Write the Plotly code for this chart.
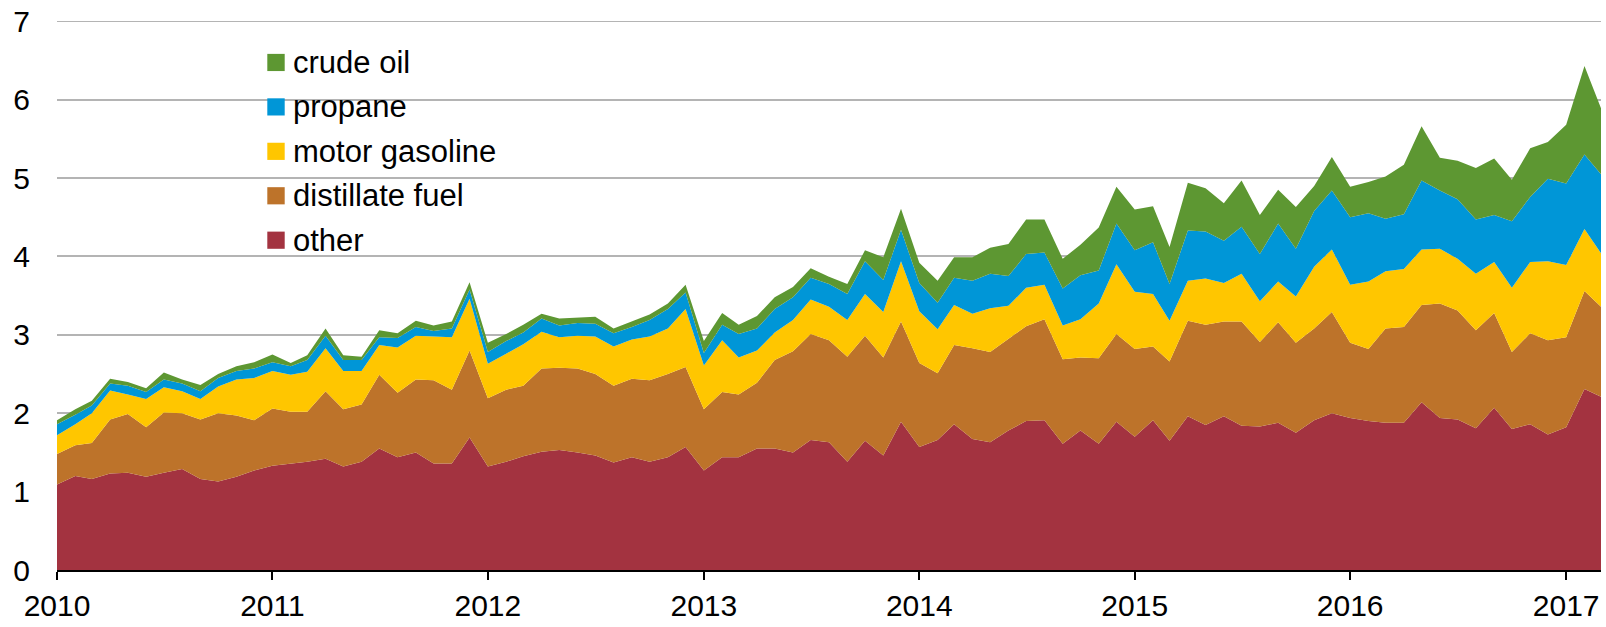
import plotly.graph_objects as go
import pandas as pd

months = pd.date_range("2010-01-01", "2017-03-01", freq="MS")

other = [1.09, 1.20, 1.16, 1.23, 1.24, 1.19, 1.24, 1.29, 1.16, 1.13, 1.19, 1.27,
         1.33, 1.36, 1.38, 1.42, 1.32, 1.38, 1.55, 1.44, 1.50, 1.36, 1.36, 1.69,
         1.32, 1.38, 1.45, 1.51, 1.53, 1.50, 1.46, 1.37, 1.44, 1.38, 1.44, 1.57,
         1.27, 1.44, 1.44, 1.55, 1.55, 1.50, 1.66, 1.63, 1.38, 1.65, 1.46, 1.89,
         1.57, 1.66, 1.86, 1.67, 1.63, 1.78, 1.90, 1.91, 1.61, 1.78, 1.61, 1.89,
         1.70, 1.91, 1.65, 1.96, 1.85, 1.96, 1.84, 1.83, 1.88, 1.75, 1.91, 2.00,
         1.94, 1.90, 1.88, 1.88, 2.14, 1.94, 1.92, 1.81, 2.07, 1.80, 1.86, 1.73,
         1.82, 2.31, 2.21]

distillate = [0.39, 0.39, 0.46, 0.69, 0.75, 0.63, 0.77, 0.71, 0.76, 0.87, 0.78, 0.64,
              0.73, 0.66, 0.64, 0.86, 0.73, 0.73, 0.94, 0.82, 0.93, 1.06, 0.94, 1.11,
              0.87, 0.92, 0.90, 1.06, 1.05, 1.07, 1.04, 0.98, 1.00, 1.04, 1.06, 1.02,
              0.78, 0.83, 0.80, 0.84, 1.13, 1.29, 1.35, 1.30, 1.34, 1.34, 1.25, 1.28,
              1.07, 0.85, 1.01, 1.16, 1.15, 1.17, 1.21, 1.29, 1.08, 0.93, 1.09, 1.12,
              1.12, 0.94, 1.01, 1.22, 1.28, 1.21, 1.33, 1.08, 1.28, 1.15, 1.17, 1.29,
              0.96, 0.92, 1.20, 1.22, 1.24, 1.46, 1.39, 1.25, 1.21, 0.98, 1.16, 1.20,
              1.15, 1.25, 1.15]

gasoline = [0.24, 0.27, 0.38, 0.37, 0.25, 0.36, 0.32, 0.28, 0.26, 0.34, 0.46, 0.54,
            0.48, 0.47, 0.51, 0.55, 0.49, 0.43, 0.38, 0.58, 0.56, 0.56, 0.67, 0.66,
            0.44, 0.46, 0.53, 0.47, 0.39, 0.42, 0.48, 0.50, 0.50, 0.56, 0.58, 0.74,
            0.56, 0.66, 0.47, 0.41, 0.35, 0.40, 0.44, 0.43, 0.47, 0.53, 0.58, 0.77,
            0.66, 0.56, 0.51, 0.44, 0.56, 0.42, 0.49, 0.44, 0.43, 0.49, 0.70, 0.89,
            0.73, 0.67, 0.52, 0.51, 0.59, 0.49, 0.61, 0.52, 0.52, 0.59, 0.79, 0.80,
            0.74, 0.86, 0.73, 0.74, 0.71, 0.70, 0.66, 0.72, 0.65, 0.82, 0.91, 1.01,
            0.92, 0.79, 0.68]

propane = [0.14, 0.12, 0.10, 0.09, 0.11, 0.09, 0.10, 0.10, 0.10, 0.11, 0.11, 0.12,
           0.11, 0.11, 0.15, 0.16, 0.14, 0.14, 0.10, 0.12, 0.11, 0.07, 0.11, 0.12,
           0.15, 0.16, 0.15, 0.17, 0.15, 0.16, 0.16, 0.17, 0.16, 0.21, 0.25, 0.21,
           0.16, 0.20, 0.30, 0.28, 0.30, 0.29, 0.28, 0.29, 0.33, 0.42, 0.41, 0.40,
           0.36, 0.34, 0.35, 0.42, 0.44, 0.38, 0.43, 0.41, 0.47, 0.56, 0.42, 0.52,
           0.53, 0.66, 0.47, 0.64, 0.60, 0.54, 0.60, 0.60, 0.74, 0.61, 0.71, 0.75,
           0.86, 0.87, 0.67, 0.70, 0.88, 0.74, 0.76, 0.69, 0.60, 0.85, 0.83, 1.05,
           1.04, 0.95, 1.01]

crude_oil = [0.05, 0.07, 0.06, 0.06, 0.05, 0.05, 0.09, 0.05, 0.08, 0.05, 0.06, 0.08,
             0.10, 0.04, 0.06, 0.09, 0.06, 0.04, 0.09, 0.06, 0.08, 0.07, 0.09, 0.09,
             0.12, 0.09, 0.10, 0.06, 0.09, 0.07, 0.09, 0.06, 0.07, 0.07, 0.07, 0.10,
             0.15, 0.15, 0.12, 0.16, 0.15, 0.13, 0.12, 0.09, 0.13, 0.14, 0.29, 0.27,
             0.26, 0.28, 0.26, 0.30, 0.33, 0.41, 0.44, 0.42, 0.38, 0.39, 0.55, 0.47,
             0.52, 0.46, 0.47, 0.61, 0.55, 0.48, 0.59, 0.50, 0.43, 0.53, 0.32, 0.43,
             0.39, 0.40, 0.54, 0.63, 0.69, 0.42, 0.49, 0.66, 0.72, 0.53, 0.62, 0.47,
             0.75, 1.13, 0.84]

series_names = ["other", "distillate fuel", "motor gasoline", "propane", "crude oil"]
series_values = [other, distillate, gasoline, propane, crude_oil]
series_colors = ["#a33340", "#bd732a", "#ffc600", "#0096d7", "#5d9732"]

y_ticks = [0, 1, 2, 3, 4, 5, 6, 7]
x_tick_years = ["2010", "2011", "2012", "2013", "2014", "2015", "2016", "2017"]

FONT = "Liberation Sans, Arial, sans-serif"
W, H = 1606, 627
ML, MR, MT, MB = 57, 5, 19, 52
GRID_COLOR = "#b4b4b4"

fig = go.Figure()
for name, vals, col in zip(series_names, series_values, series_colors):
    fig.add_trace(go.Scatter(
        x=months, y=vals, name=name, stackgroup="one", mode="lines",
        line=dict(width=0, color=col), fillcolor=col, showlegend=False,
        hovertemplate="%{x|%b %Y}: %{y}<extra>" + name + "</extra>",
    ))

# manual legend (top to bottom: crude oil ... other)
pw = W - ML - MR
ph = H - MT - MB
legend_top_center = 61.0
legend_step = 45.0
sq_left, sq_right, sq_half = 267.3, 284.7, 8.7
text_left = 291.0
shapes = []
annotations = []
for k, (name, col) in enumerate(zip(series_names[::-1], series_colors[::-1])):
    cy = legend_top_center + k * legend_step
    shapes.append(dict(
        type="rect", xref="paper", yref="paper",
        x0=(sq_left - ML) / pw, x1=(sq_right - ML) / pw,
        y0=(H - MB - (cy + sq_half)) / ph, y1=(H - MB - (cy - sq_half)) / ph,
        fillcolor=col, line=dict(width=0), layer="above",
    ))
    annotations.append(dict(
        xref="paper", yref="paper", x=(text_left - ML) / pw,
        y=(H - MB - cy) / ph, xanchor="left", yanchor="middle",
        text=name, showarrow=False, font=dict(family=FONT, size=31, color="black"),
    ))

# top gridline (plotly drops the gridline at the range edge)
shapes.append(dict(
    type="line", xref="paper", yref="y", x0=0, x1=1, y0=y_ticks[-1], y1=y_ticks[-1],
    line=dict(color=GRID_COLOR, width=1.5), layer="below",
))

fig.update_layout(
    width=W, height=H,
    margin=dict(l=ML, r=MR, t=MT, b=MB, pad=0),
    plot_bgcolor="white", paper_bgcolor="white",
    font=dict(family=FONT, size=30, color="black"),
    shapes=shapes, annotations=annotations,
    xaxis=dict(
        type="date",
        range=[months[0], months[-1]],
        tickvals=[pd.Timestamp(y + "-01-01") for y in x_tick_years],
        ticktext=x_tick_years,
        ticks="outside", ticklen=8, tickwidth=2, tickcolor="black",
        showline=True, linecolor="black", linewidth=2,
        showgrid=False, zeroline=False,
        tickfont=dict(family=FONT, size=30, color="black"),
    ),
    yaxis=dict(
        range=[0, 7.004],
        tickvals=y_ticks,
        showgrid=True, gridcolor=GRID_COLOR, gridwidth=1.5,
        zeroline=False, showline=False, ticks="",
        ticklabelstandoff=26,
        tickfont=dict(family=FONT, size=30, color="black"),
    ),
    hovermode="x unified",
)

fig.write_html(
    "out.html",
    config={"displayModeBar": False},
    post_script="document.body.style.margin='0';document.documentElement.style.overflow='hidden';",
)
